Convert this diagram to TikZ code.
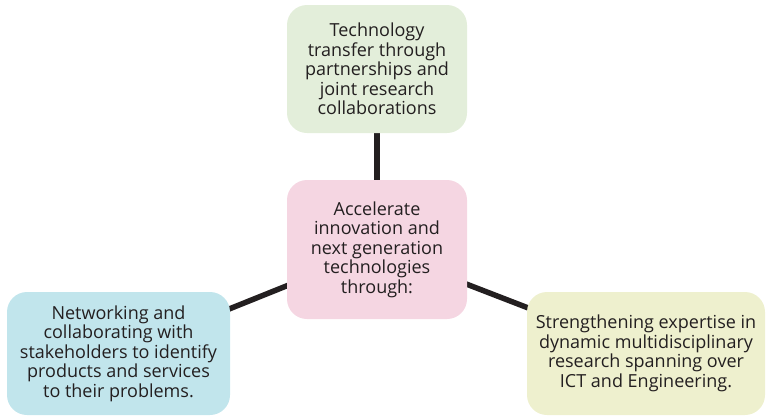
\documentclass[tikz,border=0pt]{standalone}
\usepackage{fontspec}
\setmainfont{Open Sans}
\usetikzlibrary{positioning}
\definecolor{inkgrey}{HTML}{231F20}
\definecolor{pinkfill}{HTML}{F5D6E2}
\definecolor{greenfill}{HTML}{E3EEDA}
\definecolor{bluefill}{HTML}{C1E5EC}
\definecolor{yellowfill}{HTML}{EEF0CE}
\tikzset{
    % Rounded box holding one of the statements
    idea box/.style={
        rectangle, rounded corners=20pt, align=center, inner sep=0pt,
        text=inkgrey, font=\fontsize{18}{19.5}\selectfont},
%
    % The heavy spokes joining the boxes to the middle one
    spoke/.style={draw=inkgrey, line width=5.5pt}}
\pgfdeclarelayer{background}
\pgfsetlayers{background,main}
\begin{document}
\begin{tikzpicture}[x=1pt, y=-1pt]
\useasboundingbox (0,0) rectangle (766,416);

% The central aim
\node[idea box, fill=pinkfill, minimum width=180pt, minimum height=139pt]
    (aim) at (377,249.5)
    {Accelerate\\innovation and\\next generation\\technologies\\through:};

% Technology transfer, above
\node[idea box, fill=greenfill, minimum width=180pt, minimum height=128pt]
    (transfer) at (377,69)
    {Technology\\transfer through\\partnerships and\\joint research\\collaborations};

% Networking, bottom left
\node[idea box, fill=bluefill, minimum width=223pt, minimum height=123pt]
    (networking) at (118.5,353.5)
    {Networking and\\collaborating with\\stakeholders to identify\\products and services\\to their problems.};

% Expertise, bottom right
\node[idea box, fill=yellowfill, minimum width=238pt, minimum height=123pt]
    (expertise) at (646,353.5)
    {Strengthening expertise in\\dynamic multidisciplinary\\research spanning over\\ICT and Engineering.};

% Spokes go behind the boxes
\begin{pgfonlayer}{background}
\draw[spoke] (aim.center) -- (transfer.center);
\draw[spoke] (aim.center) -- (networking.center);
\draw[spoke] (aim.center) -- (expertise.center);
\end{pgfonlayer}

\end{tikzpicture}
\end{document}
